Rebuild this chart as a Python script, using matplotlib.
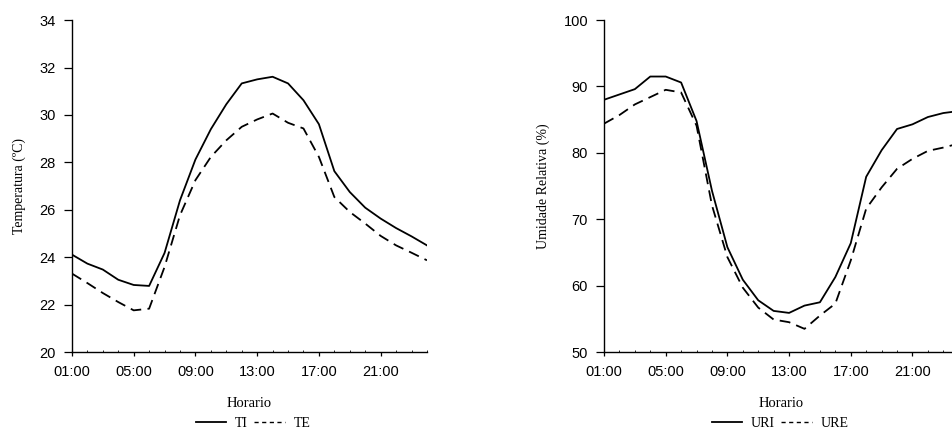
import matplotlib.pyplot as plt
from matplotlib.lines import Line2D
from matplotlib.ticker import MultipleLocator

# ── Dados ─────────────────────────────────────────────────────────────────────
horas = list(range(1, 25))
tick_horas = [1, 5, 9, 13, 17, 21]
tick_labels = ["01:00", "05:00", "09:00", "13:00", "17:00", "21:00"]

ti = [24.11, 23.73, 23.48, 23.05, 22.83, 22.79, 24.18, 26.40, 28.12, 29.40,
      30.45, 31.33, 31.50, 31.61, 31.33, 30.62, 29.61, 27.63, 26.75, 26.09,
      25.63, 25.23, 24.88, 24.50]
te = [23.31, 22.91, 22.49, 22.11, 21.76, 21.83, 23.59, 25.77, 27.25, 28.23,
      28.93, 29.50, 29.81, 30.06, 29.67, 29.43, 28.23, 26.54, 25.91, 25.42,
      24.90, 24.50, 24.19, 23.87]

uri = [88.0, 88.8, 89.6, 91.5, 91.5, 90.6, 84.8, 74.3, 65.8, 60.9,
       57.8, 56.2, 55.9, 57.0, 57.5, 61.3, 66.4, 76.4, 80.4, 83.6,
       84.3, 85.4, 86.0, 86.3]
ure = [84.4, 85.7, 87.3, 88.4, 89.5, 89.1, 84.1, 72.1, 64.3, 59.7,
       56.7, 54.9, 54.5, 53.5, 55.5, 57.3, 63.8, 71.6, 74.8, 77.6,
       79.1, 80.3, 80.8, 81.4]

SANS = "Liberation Sans"
SERIF = "Liberation Serif"
DASH = (0, (6, 3.5))

fig = plt.figure(figsize=(9.53, 4.32), dpi=100)
ax1 = fig.add_axes([0.0755, 0.185, 0.3725, 0.7685])
ax2 = fig.add_axes([0.6338, 0.185, 0.3722, 0.7685])


def _estilo(ax, ylim, ystep, ylabel, labels, leg_x):
    ax.set_xlim(1, 24)
    ax.set_ylim(*ylim)
    ax.yaxis.set_major_locator(MultipleLocator(ystep))
    ax.set_xticks(tick_horas)
    ax.set_xticklabels(tick_labels)
    ax.xaxis.set_minor_locator(MultipleLocator(1))
    for s in ("top", "right"):
        ax.spines[s].set_visible(False)
    for s in ("left", "bottom"):
        ax.spines[s].set_linewidth(1.0)
    ax.tick_params(axis="y", which="major", direction="out", length=5.5,
                   width=0.9, labelsize=10.5, pad=6)
    ax.tick_params(axis="x", which="major", direction="out", length=3,
                   width=0.9, labelsize=10.5, pad=6)
    ax.tick_params(axis="x", which="minor", direction="in", length=1.5, width=0.6)
    for lab in ax.get_xticklabels() + ax.get_yticklabels():
        lab.set_fontfamily(SANS)
    ax.set_ylabel(ylabel, fontfamily=SERIF, fontsize=10, labelpad=10)
    ax.set_xlabel("Horario", fontfamily=SERIF, fontsize=10.5, labelpad=13)
    # legenda com traços curtos, como no original
    handles = [Line2D([], [], color="black", lw=1.3),
               Line2D([], [], color="black", lw=1.0, ls=(0, (3, 2.5)))]
    fig.legend(handles, labels, loc="center", bbox_to_anchor=(leg_x, 0.02),
               ncol=2, frameon=False, prop={"family": SERIF, "size": 10},
               handlelength=2.2, columnspacing=0.5, handletextpad=0.6)


ax1.plot(horas, ti, color="black", lw=1.3)
ax1.plot(horas, te, color="black", lw=1.3, ls=DASH)
_estilo(ax1, (20, 34), 2, "Temperatura (ºC)", ["TI", "TE"], 253 / 953)

ax2.plot(horas, uri, color="black", lw=1.3)
ax2.plot(horas, ure, color="black", lw=1.3, ls=DASH)
_estilo(ax2, (50, 100), 10, "Umidade Relativa (%)", ["URI", "URE"], 780 / 953)

fig.savefig("out.png", dpi=100)
plt.close(fig)
